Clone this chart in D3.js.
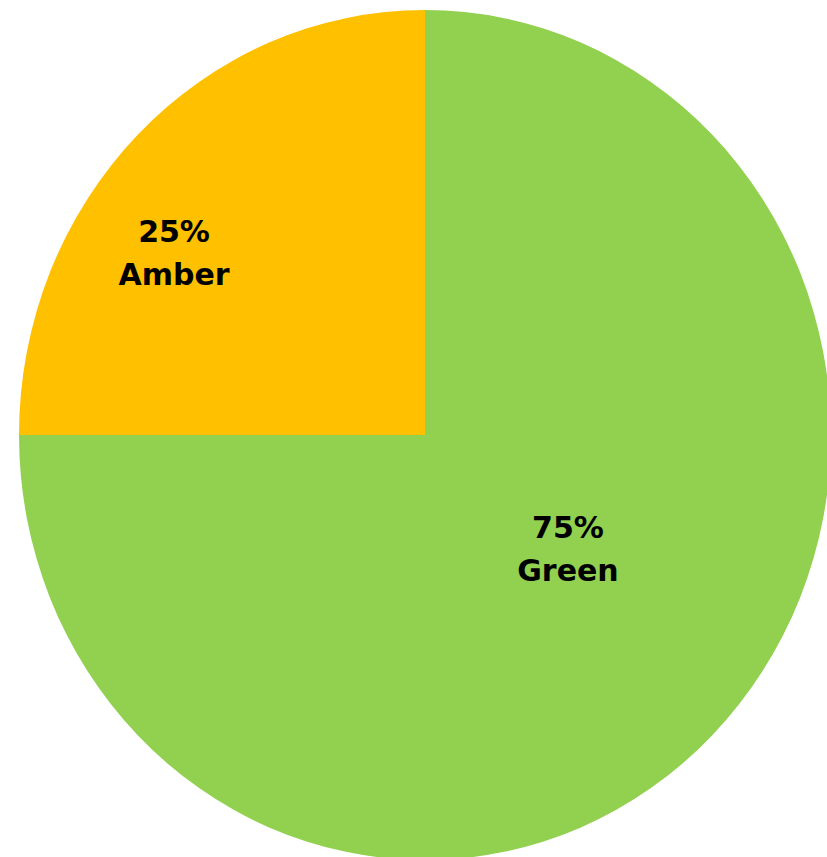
<!DOCTYPE html>
<html><head><meta charset="utf-8">
<script src="https://cdn.jsdelivr.net/npm/d3@7"></script>
<style>html,body{margin:0;padding:0;background:#fff;overflow:hidden}</style>
</head><body>
<svg id="chart" width="827" height="857"></svg>
<script>
const categories = ["Green", "Amber"];
const values = [75, 25];
const colors = ["#92D050", "#FFC000"];

const svg = d3.select("#chart");
const cx = 425, cy = 435, rx = 406, ry = 425;

const pie = d3.pie().sort(null).value(d => d.value).startAngle(0).endAngle(2 * Math.PI);
const data = categories.map((c, i) => ({ name: c, value: values[i], color: colors[i] }));
const arcs = pie(data);
const total = d3.sum(values);

const arc = d3.arc().innerRadius(0).outerRadius(1);
const g = svg.append("g").attr("transform", `translate(${cx},${cy}) scale(${rx},${ry})`);
g.selectAll("path").data(arcs).join("path")
  .attr("d", arc)
  .attr("fill", d => d.data.color);

// label placement (fraction of radius along slice midpoint, plus tweak)
const labelR = { Green: 0.45, Amber: 0.72 };
const tweak = { Green: [0.034, -0.052], Amber: [-0.109, 0.078] };
const lg = svg.append("g");
arcs.forEach(a => {
  const mid = (a.startAngle + a.endAngle) / 2;
  const f = labelR[a.data.name];
  const t = tweak[a.data.name];
  const x = cx + (Math.sin(mid) * f + t[0]) * rx;
  const y = cy + (-Math.cos(mid) * f + t[1]) * ry;
  const txt = lg.append("text")
    .attr("x", x).attr("y", y)
    .attr("text-anchor", "middle")
    .attr("font-family", "'DejaVu Sans', sans-serif")
    .attr("font-weight", "bold")
    .attr("font-size", 30)
    .attr("fill", "#000");
  txt.append("tspan").attr("x", x).attr("dy", "-0.33em")
    .text(Math.round(a.data.value / total * 100) + "%");
  txt.append("tspan").attr("x", x).attr("dy", "1.43em").text(a.data.name);
});
</script>
</body></html>
